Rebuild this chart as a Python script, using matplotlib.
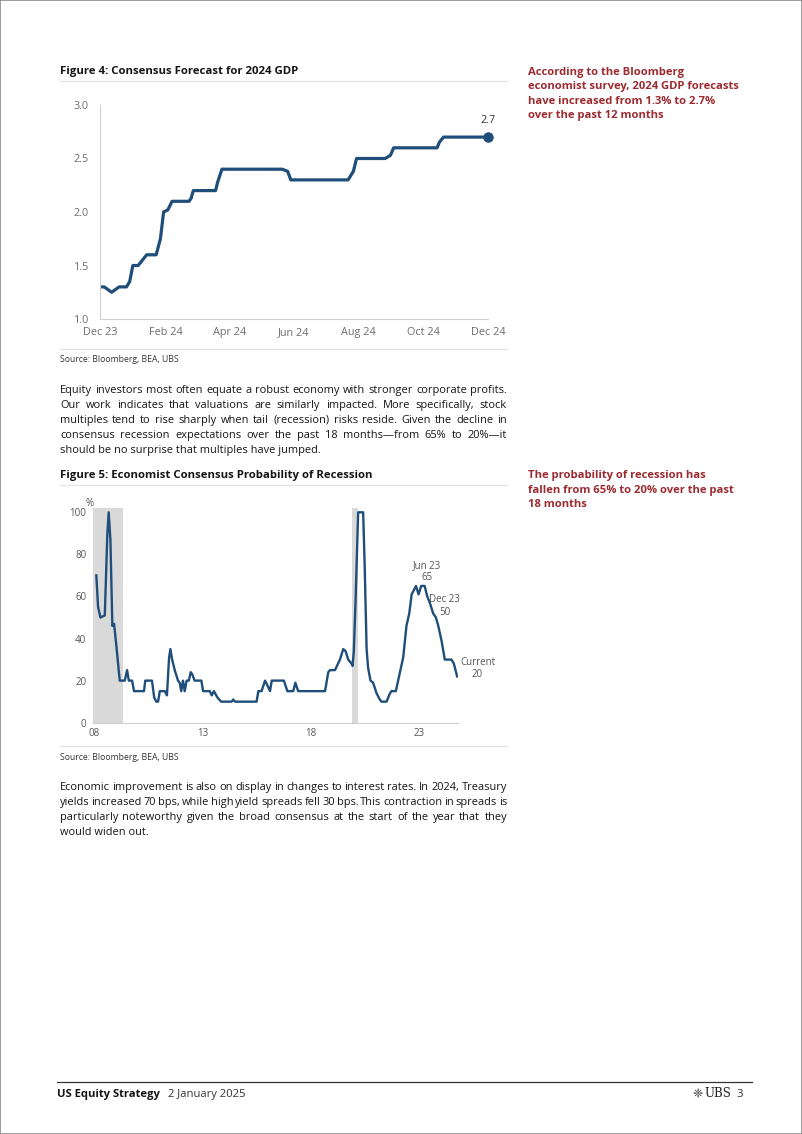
import matplotlib
matplotlib.use('Agg')
import matplotlib.pyplot as plt
import pandas as pd
from matplotlib.font_manager import FontProperties
from matplotlib.lines import Line2D
from matplotlib.patches import Rectangle

# ---------------- data ----------------
gdp_dates = ["2023-12-01", "2023-12-05", "2023-12-12", "2023-12-19", "2023-12-26", "2023-12-29",
             "2024-01-01", "2024-01-06", "2024-01-10", "2024-01-14", "2024-01-23", "2024-01-27",
             "2024-01-30", "2024-02-03", "2024-02-07", "2024-02-23", "2024-02-25", "2024-02-27",
             "2024-03-19", "2024-03-21", "2024-03-25", "2024-05-21", "2024-05-26", "2024-05-29",
             "2024-07-22", "2024-07-27", "2024-07-30", "2024-08-26", "2024-08-31", "2024-09-03",
             "2024-10-14", "2024-10-16", "2024-10-20", "2024-12-01"]
gdp_values = [1.3, 1.3, 1.25, 1.3, 1.3, 1.35,
              1.5, 1.5, 1.55, 1.6, 1.6, 1.75,
              2.0, 2.02, 2.1, 2.1, 2.13, 2.2,
              2.2, 2.28, 2.4, 2.4, 2.38, 2.3,
              2.3, 2.38, 2.5, 2.5, 2.53, 2.6,
              2.6, 2.65, 2.7, 2.7]
gdp_ticks = ["2023-12-01", "2024-02-01", "2024-04-01", "2024-06-01", "2024-08-01", "2024-10-01", "2024-12-01"]
gdp_yticks = [1.0, 1.5, 2.0, 2.5, 3.0]

rec_time = [2008.09, 2008.17, 2008.28, 2008.48, 2008.60, 2008.66, 2008.74, 2008.83, 2008.91, 2009.02,
            2009.17, 2009.40, 2009.51, 2009.59, 2009.74, 2009.83, 2010.29, 2010.35, 2010.66, 2010.76,
            2010.86, 2010.94, 2011.02, 2011.25, 2011.35, 2011.45, 2011.51, 2011.59, 2011.71, 2011.86,
            2011.94, 2012.01, 2012.09, 2012.17, 2012.26, 2012.36, 2012.45, 2012.52, 2012.63, 2012.94,
            2013.02, 2013.33, 2013.42, 2013.52, 2013.68, 2013.85, 2014.34, 2014.41, 2014.50, 2015.49,
            2015.57, 2015.72, 2015.88, 2015.98, 2016.11, 2016.19, 2016.75, 2016.91, 2017.18, 2017.28,
            2017.41, 2018.65, 2018.80, 2018.88, 2019.11, 2019.34, 2019.49, 2019.60, 2019.72, 2019.88,
            2019.92, 2019.98, 2020.06, 2020.14, 2020.18, 2020.41, 2020.48, 2020.57, 2020.64, 2020.75,
            2020.87, 2021.03, 2021.18, 2021.26, 2021.49, 2021.65, 2021.72, 2021.92, 2022.11, 2022.26,
            2022.41, 2022.54, 2022.65, 2022.75, 2022.85, 2022.97, 2023.09, 2023.25, 2023.37, 2023.49,
            2023.64, 2023.77, 2023.88, 2024.03, 2024.18, 2024.49, 2024.60, 2024.75]
rec_values = [70, 55, 50, 51, 90, 100, 87, 46, 47, 36,
              20, 20, 25, 20, 20, 15, 15, 20, 20, 12,
              10, 10, 15, 15, 13, 31, 35, 30, 25, 20,
              19, 15, 20, 15, 20, 20, 24, 23, 20, 20,
              15, 15, 13, 15, 12, 10, 10, 11, 10, 10,
              15, 15, 20, 18, 15, 20, 20, 15, 15, 19,
              15, 15, 24, 25, 25, 30, 35, 34, 30, 28,
              27, 34, 58, 86, 100, 100, 75, 35, 26, 20,
              19, 14, 11, 10, 10, 14, 15, 15, 24, 31,
              46, 52, 61, 63, 65, 61, 65, 65, 60, 57,
              52, 50, 46, 39, 30, 30, 28, 22]
recessions = [(2007.95, 2009.33), (2019.88, 2020.18)]
rec_xticks = [2008, 2013, 2018, 2023]
rec_xticklabels = ["08", "13", "18", "23"]
rec_yticks = [0, 20, 40, 60, 80, 100]
rec_annotations = [(2023.34, 71.8, "Jun 23\n65"), (2024.18, 55.5, "Dec 23\n50"), (2025.69, 25.8, "Current\n20")]

# ---------------- figure ----------------
W, H = 802, 1134
fig = plt.figure(figsize=(W / 100, H / 100), dpi=100)
fig.patch.set_facecolor('white')
renderer = fig.canvas.get_renderer()

FONT = 'Open Sans'
BLUE = '#1f4e7a'
RED = '#9c2b31'
DARK = '#151515'
GRAY = '#6e6e6e'


def fx(x):
    return x / W


def fy(y):
    return 1 - y / H


def width_of(s, fp):
    return renderer.get_text_width_height_descent(s, fp, ismath=False)[0]


def fit(s, weight, target, family=FONT, base=8.0):
    fp = FontProperties(family=family, weight=weight, size=base)
    return base * target / width_of(s, fp)


def txt(x, y, s, size, weight='normal', color=DARK, ha='left', va='baseline', family=FONT, **kw):
    return fig.text(fx(x), fy(y), s, fontsize=size, fontweight=weight, color=color,
                    ha=ha, va=va, family=family, **kw)


def hline(x0, x1, y, color, lw):
    fig.add_artist(Line2D([fx(x0), fx(x1)], [fy(y), fy(y)], transform=fig.transFigure,
                          color=color, lw=lw))


def justify(lines, x0, x1, y0, dy, size, color=DARK):
    fp = FontProperties(family=FONT, size=size)
    for i, line in enumerate(lines):
        y = y0 + i * dy
        words = line.split(' ')
        if i == len(lines) - 1:
            txt(x0, y, line, size, color=color)
            continue
        ws = [width_of(w, fp) for w in words]
        gap = max((x1 - x0 - sum(ws)) / (len(words) - 1), 1.8)
        x = x0
        for w, wd in zip(words, ws):
            txt(x, y, w, size, color=color)
            x += wd + gap


# page border
fig.add_artist(Rectangle((0, 0), 1, 1, transform=fig.transFigure, fill=False,
                         edgecolor='#8a8a8a', lw=1.2))

# titles
title_size = fit("Figure 5: Economist Consensus Probability of Recession", 'bold', 312)
txt(60, 74, "Figure 4: Consensus Forecast for 2024 GDP", title_size, 'bold')
hline(60, 507, 81, '#e2e2e2', 0.8)
txt(60, 478, "Figure 5: Economist Consensus Probability of Recession", title_size, 'bold')
hline(60, 507, 485, '#e2e2e2', 0.8)

# side notes
side_size = fit("economist survey, 2024 GDP forecasts", 'bold', 212)
for i, s in enumerate(["According to the Bloomberg", "economist survey, 2024 GDP forecasts",
                       "have increased from 1.3% to 2.7%", "over the past 12 months"]):
    txt(528, 74.5 + i * 14.5, s, side_size, 'bold', RED)
for i, s in enumerate(["The probability of recession has", "fallen from 65% to 20% over the past",
                       "18 months"]):
    txt(528, 478 + i * 14.5, s, side_size, 'bold', RED)

# sources
src_size = fit("Source: Bloomberg, BEA, UBS", 'normal', 119)
txt(60, 362, "Source: Bloomberg, BEA, UBS", src_size, color='#333333')
hline(60, 507, 349, '#e2e2e2', 0.8)
txt(60, 760, "Source: Bloomberg, BEA, UBS", src_size, color='#333333')
hline(60, 507, 746, '#e2e2e2', 0.8)

# paragraphs
p1 = ["Equity investors most often equate a robust economy with stronger corporate profits.",
      "Our work indicates that valuations are similarly impacted. More specifically, stock",
      "multiples tend to rise sharply when tail (recession) risks reside. Given the decline in",
      "consensus recession expectations over the past 18 months\u2014from 65% to 20%\u2014it",
      "should be no surprise that multiples have jumped."]
p2 = ["Economic improvement is also on display in changes to interest rates. In 2024, Treasury",
      "yields increased 70 bps, while high yield spreads fell 30 bps. This contraction in spreads is",
      "particularly noteworthy given the broad consensus at the start of the year that they",
      "would widen out."]
full_lines = p1[:-1] + p2[:-1]
fp8 = FontProperties(family=FONT, size=8.0)
mean_w = sum(width_of(s, fp8) for s in full_lines) / len(full_lines)
body_size = 8.0 * 436 / mean_w
justify(p1, 60, 507, 393, 15, body_size)
justify(p2, 60, 507, 790, 15, body_size)

# footer
hline(57, 752, 1082, '#333333', 0.9)
foot_size = fit("US Equity Strategy", 'bold', 104)
txt(57, 1097, "US Equity Strategy", foot_size, 'bold')
txt(168, 1097, "2 January 2025", foot_size, color='#333333')
txt(703, 1097, "\u2748", foot_size * 1.1, color='#333333', ha='right', family='DejaVu Sans')
txt(704, 1097, "UBS", foot_size * 1.05, color='#222222', family='DejaVu Serif')
txt(736, 1097, "3", foot_size, color='#333333')

# ---------------- Figure 4 chart ----------------
ax1 = fig.add_axes([fx(100), fy(319), (488 - 100) / W, (319 - 105) / H])
d = pd.to_datetime(gdp_dates)
ax1.plot(d, gdp_values, color=BLUE, lw=2.3, solid_joinstyle='round', solid_capstyle='round')
ax1.plot(d[-1:], gdp_values[-1:], 'o', color=BLUE, ms=6.5, clip_on=False)
ax1.annotate(f"{gdp_values[-1]:.1f}", (d[-1], gdp_values[-1]), xytext=(0, 8),
             textcoords='offset points', ha='center', va='bottom', fontsize=7.8,
             family=FONT, color='#333333')
ax1.set_xlim(pd.Timestamp(gdp_dates[0]), pd.Timestamp(gdp_ticks[-1]))
ax1.set_ylim(gdp_yticks[0], gdp_yticks[-1])
tick_dates = pd.to_datetime(gdp_ticks)
ax1.set_xticks(tick_dates)
ax1.set_xticklabels([t.strftime('%b %y') for t in tick_dates])
ax1.set_yticks(gdp_yticks)
ax1.set_yticklabels([f"{v:.1f}" for v in gdp_yticks])
for sp in ['top', 'right']:
    ax1.spines[sp].set_visible(False)
for sp in ['left', 'bottom']:
    ax1.spines[sp].set_color('#cfcfcf')
    ax1.spines[sp].set_linewidth(0.8)
ax1.tick_params(axis='both', length=0, labelsize=7.8, labelcolor=GRAY)
ax1.tick_params(axis='y', pad=8)
ax1.tick_params(axis='x', pad=6)
for lab in ax1.get_xticklabels() + ax1.get_yticklabels():
    lab.set_family(FONT)

# ---------------- Figure 5 chart ----------------
ax2 = fig.add_axes([fx(93.3), fy(722.7), (458 - 93.3) / W, (722.7 - 508.1) / H])
for a, b in recessions:
    ax2.axvspan(a, b, color='#d9d9d9', lw=0, zorder=0)
ax2.plot(rec_time, rec_values, color=BLUE, lw=1.7, solid_joinstyle='round', zorder=2)
ax2.set_xlim(2007.95, 2024.79)
ax2.set_ylim(0, 102)
ax2.set_xticks(rec_xticks)
ax2.set_xticklabels(rec_xticklabels)
ax2.set_yticks(rec_yticks)
for sp in ['top', 'right', 'left']:
    ax2.spines[sp].set_visible(False)
ax2.spines['bottom'].set_color('#cfcfcf')
ax2.spines['bottom'].set_linewidth(0.8)
ax2.tick_params(axis='both', length=0, labelsize=7, labelcolor='#555555')
ax2.tick_params(axis='y', pad=5)
ax2.tick_params(axis='x', pad=4)
for lab in ax2.get_xticklabels() + ax2.get_yticklabels():
    lab.set_family(FONT)
for x, y, s in rec_annotations:
    ax2.text(x, y, s, ha='center', va='center', fontsize=7, family=FONT, color='#555555',
             linespacing=1.15, clip_on=False)
txt(90, 503, "%", 7, color='#555555', ha='center', va='center')

fig.savefig('out.png', dpi=100, facecolor='white')
